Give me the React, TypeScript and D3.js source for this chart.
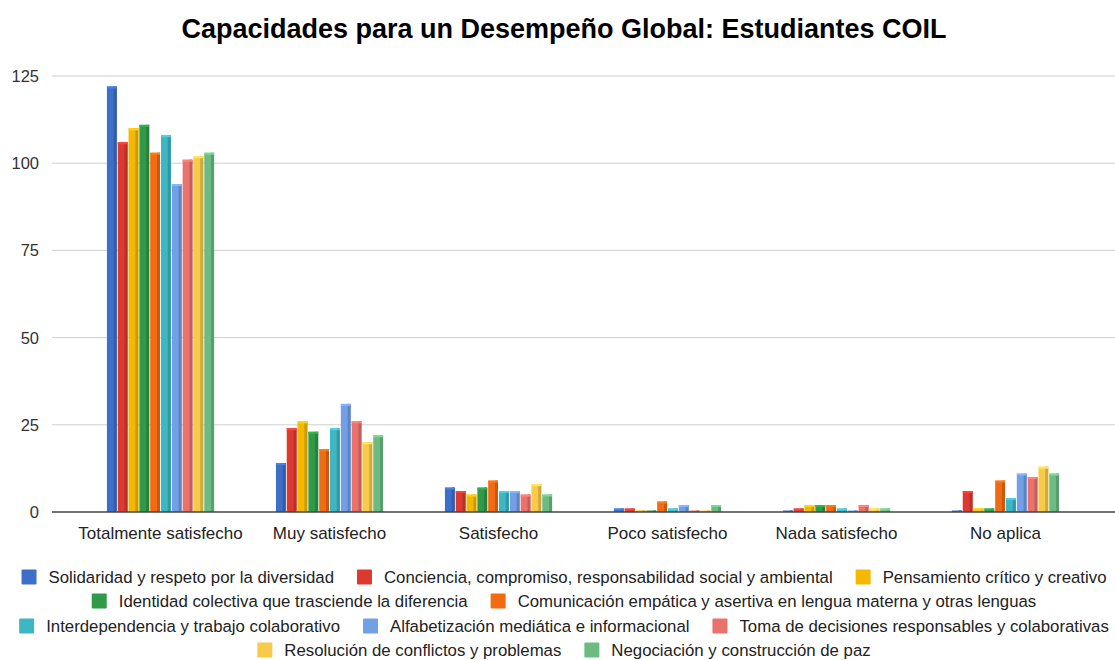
import React, { useMemo } from "react";
import * as d3 from "d3";

const categories = ["Totalmente satisfecho", "Muy satisfecho", "Satisfecho", "Poco satisfecho", "Nada satisfecho", "No aplica"];

const seriesNames = [
  "Solidaridad y respeto por la diversidad",
  "Conciencia, compromiso, responsabilidad social y ambiental",
  "Pensamiento crítico y creativo",
  "Identidad colectiva que trasciende la diferencia",
  "Comunicación empática y asertiva en lengua materna y otras lenguas",
  "Interdependencia y trabajo colaborativo",
  "Alfabetización mediática e informacional",
  "Toma de decisiones responsables y colaborativas",
  "Resolución de conflictos y problemas",
  "Negociación y construcción de paz",
];

const solidaridad = [122, 14, 7, 1, 0, 0];
const conciencia = [106, 24, 6, 1, 1, 6];
const pensamiento = [110, 26, 5, 0, 2, 1];
const identidad = [111, 23, 7, 0, 2, 1];
const comunicacion = [103, 18, 9, 3, 2, 9];
const interdependencia = [108, 24, 6, 1, 1, 4];
const alfabetizacion = [94, 31, 6, 2, 0, 11];
const toma = [101, 26, 5, 0, 2, 10];
const resolucion = [102, 20, 8, 0, 1, 13];
const negociacion = [103, 22, 5, 2, 1, 11];

const seriesValues = [solidaridad, conciencia, pensamiento, identidad, comunicacion, interdependencia, alfabetizacion, toma, resolucion, negociacion];

const colors = ["#3d6fc8", "#dc3a30", "#f5b800", "#2f9a48", "#f26a12", "#3eb6c3", "#729fe6", "#e9726c", "#f7ca4a", "#6cbb82"];

const yTicks = [0, 25, 50, 75, 100, 125];

const legendRows = [[0, 1, 2], [3, 4], [5, 6, 7], [8, 9]];

const TITLE = "Capacidades para un Desempeño Global: Estudiantes COIL";
const FONT = "'Liberation Sans', Arial, sans-serif";
const LEGEND_FS = 16.8;

export default function App() {
  const W = 1115, H = 660;
  const x0 = d3.scaleBand<string>().domain(categories).range([76, 1090]).paddingInner(0.36).paddingOuter(0.18);
  const x1 = d3.scaleBand<number>().domain(d3.range(seriesNames.length)).range([0, x0.bandwidth()]).paddingInner(0);
  const y = d3.scaleLinear().domain([0, 125]).range([512, 76]);

  const measure = useMemo(() => {
    const c = document.createElement("canvas").getContext("2d")!;
    c.font = `${LEGEND_FS}px ${FONT}`;
    return (s: string) => c.measureText(s).width;
  }, []);

  const legendY = [577, 601, 626, 650];
  const cx = 564;
  const sw = 15, textOff = 27, gap = 23;

  return (
    <svg width={W} height={H} style={{ display: "block", position: "absolute", left: 0, top: 0, background: "#fff" }} fontFamily={FONT}>
      <rect width={W} height={H} fill="#fff" />
      <text x={564} y={38} textAnchor="middle" fontSize={27} fontWeight="bold" fill="#000">{TITLE}</text>
      {yTicks.map((t) => (
        <g key={t}>
          {t !== 0 && <line x1={52} x2={1115} y1={y(t)} y2={y(t)} stroke="#cfcfcf" strokeWidth={1} />}
          <text x={39} y={y(t) + 6} textAnchor="end" fontSize={16.5} fill="#333">{t}</text>
        </g>
      ))}
      {categories.map((cat, ci) => (
        <g key={cat} transform={`translate(${x0(cat)},0)`}>
          {seriesValues.map((vals, si) => {
            const v = vals[ci];
            const bx = x1(si)!;
            const bw = x1.bandwidth();
            const top = y(v);
            const h = Math.max(1.5, y(0) - top);
            const c = d3.color(colors[si])!;
            return (
              <g key={si}>
                <rect x={bx + 0.5} y={y(0) - h} width={bw - 1} height={h} fill={colors[si]} />
                <rect x={bx + bw - 3.5} y={y(0) - h} width={3} height={h} fill={c.darker(0.5).toString()} />
                {v > 0 && <rect x={bx + 0.5} y={top} width={bw - 1} height={2} fill={c.brighter(0.4).toString()} />}
              </g>
            );
          })}
          <text x={x0.bandwidth() / 2} y={539} textAnchor="middle" fontSize={17} fill="#222">{cat}</text>
        </g>
      ))}
      <line x1={52} x2={1115} y1={y(0)} y2={y(0)} stroke="#444" strokeWidth={1.5} />
      {legendRows.map((row, ri) => {
        const widths = row.map((i) => textOff + measure(seriesNames[i]));
        const total = d3.sum(widths) + gap * (row.length - 1);
        let xx = cx - total / 2;
        return (
          <g key={ri}>
            {row.map((i, k) => {
              const start = xx;
              xx += widths[k] + gap;
              return (
                <g key={i}>
                  <rect x={start} y={legendY[ri] - 7.5} width={sw} height={sw} fill={colors[i]} rx={1} />
                  <text x={start + textOff} y={legendY[ri] + 6} fontSize={LEGEND_FS} fill="#222">{seriesNames[i]}</text>
                </g>
              );
            })}
          </g>
        );
      })}
    </svg>
  );
}
